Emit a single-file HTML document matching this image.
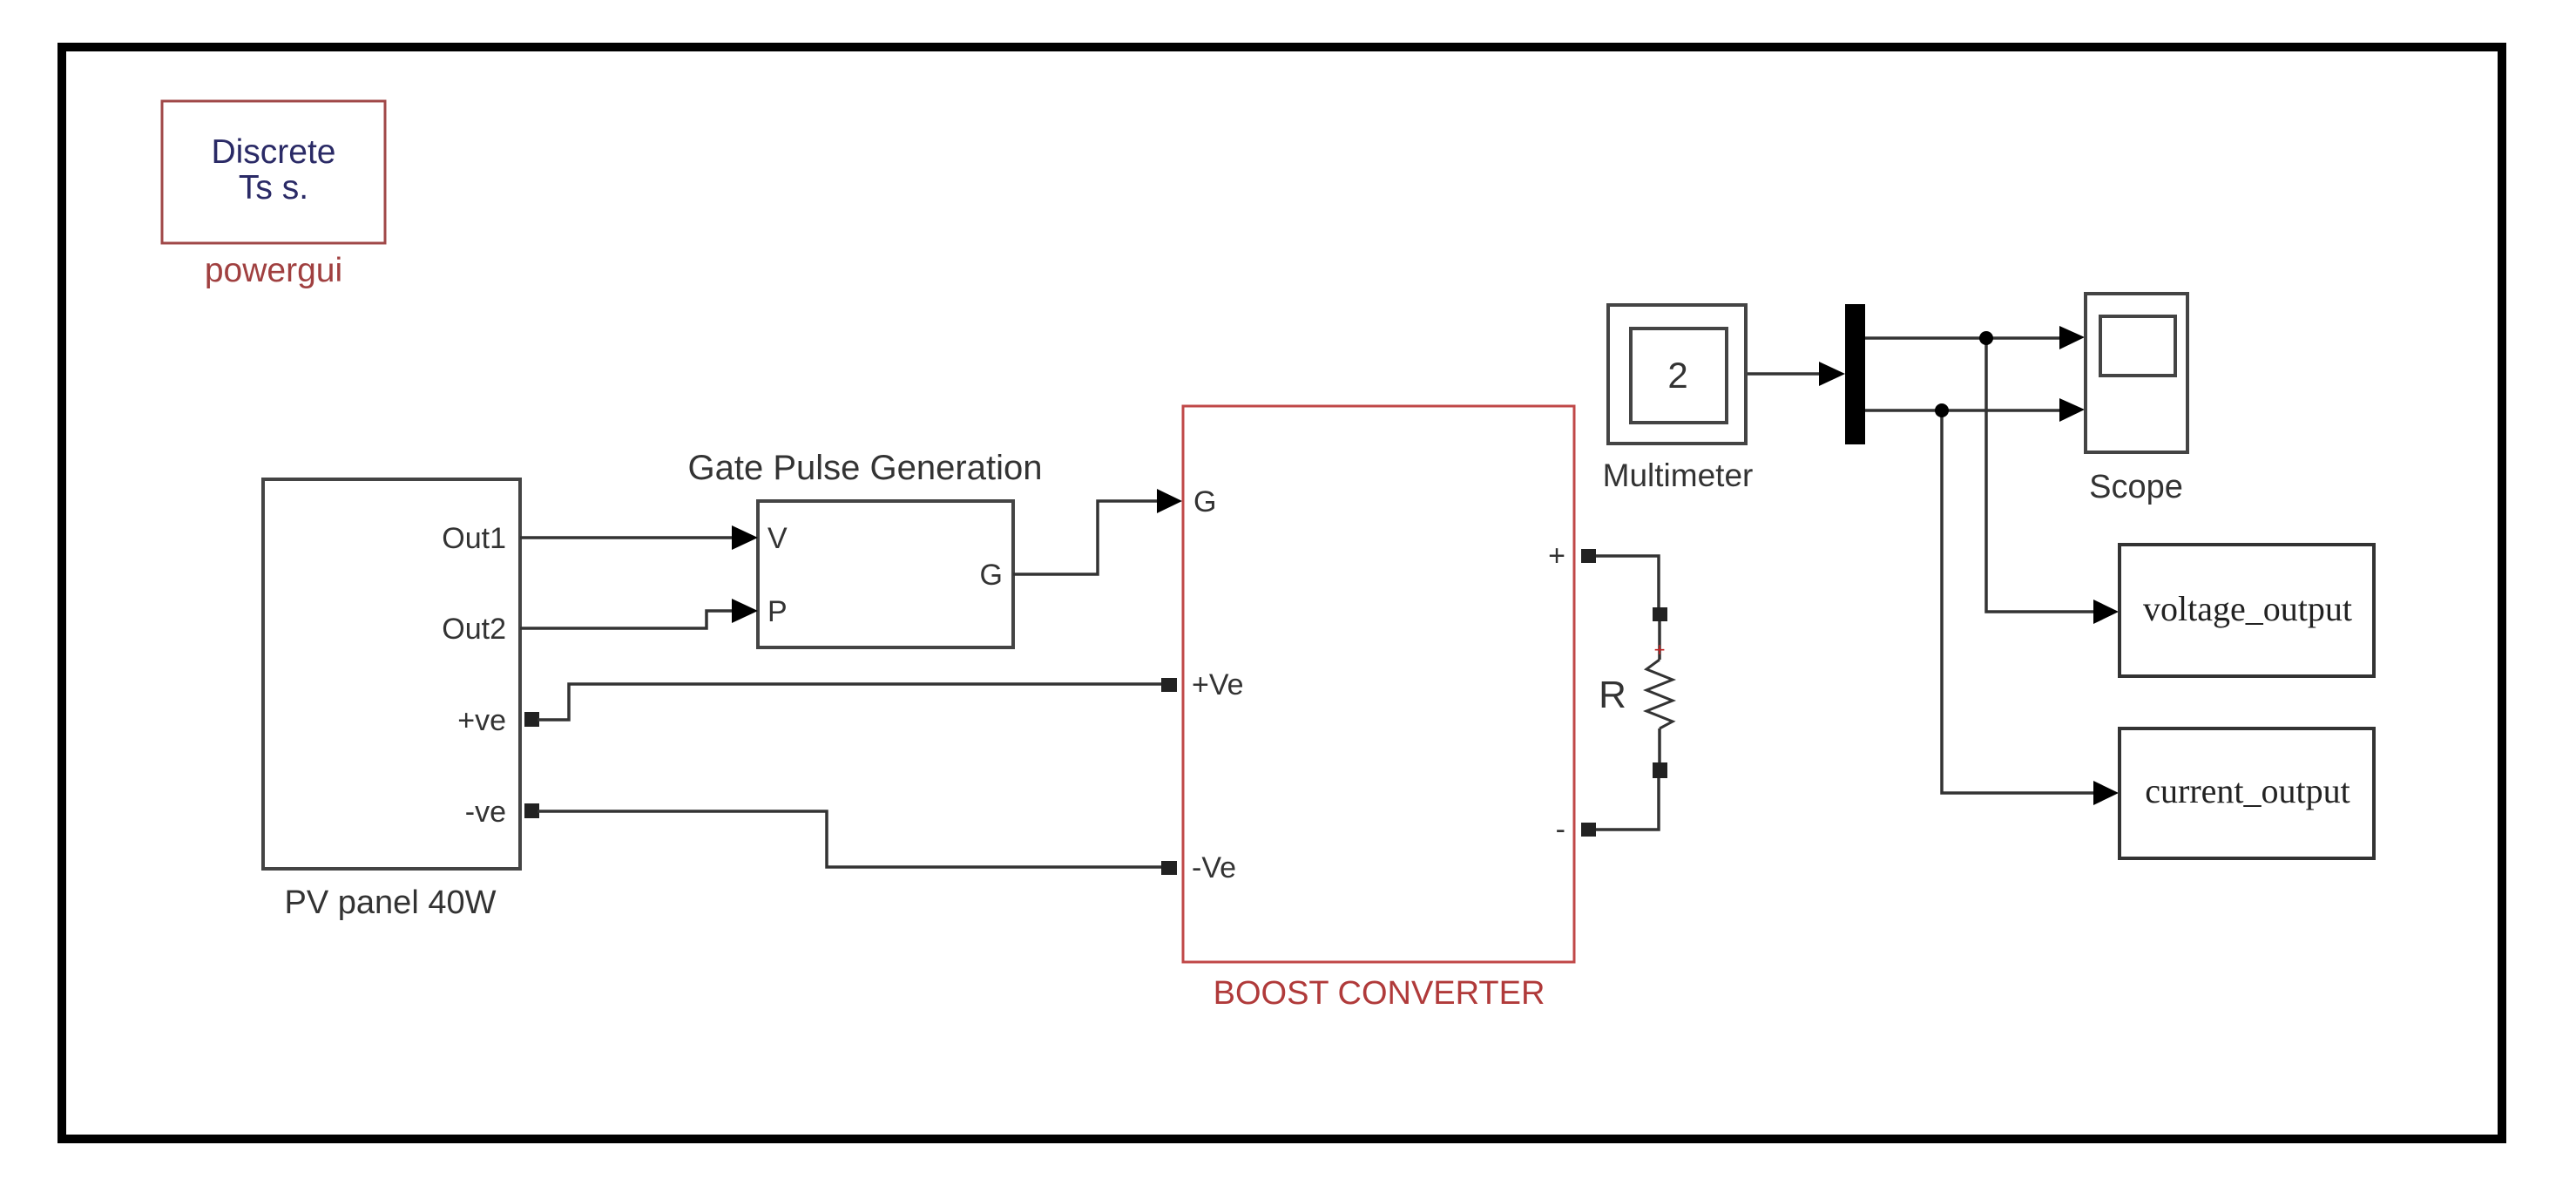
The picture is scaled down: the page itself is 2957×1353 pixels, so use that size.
<!DOCTYPE html>
<html><head><meta charset="utf-8"><style>
html,body{margin:0;padding:0;background:#fff;width:2957px;height:1353px;overflow:hidden}
svg{display:block}
text{font-family:"Liberation Sans",sans-serif}
</style></head><body>
<svg width="2957" height="1353" viewBox="0 0 2957 1353" xmlns="http://www.w3.org/2000/svg">
<rect x="0" y="0" width="2957" height="1353" fill="#fff"/>
<rect x="71" y="54" width="2801" height="1253" fill="none" stroke="#000" stroke-width="10"/>

<!-- powergui -->
<rect x="186" y="116" width="256" height="163" fill="none" stroke="#a04848" stroke-width="3"/>
<text x="314" y="187" font-size="39" fill="#2a2a66" text-anchor="middle">Discrete</text>
<text x="314" y="228" font-size="39" fill="#2a2a66" text-anchor="middle">Ts s.</text>
<text x="314" y="323" font-size="39" fill="#a04040" text-anchor="middle">powergui</text>

<!-- PV panel -->
<rect x="302" y="550" width="295" height="447" fill="none" stroke="#444" stroke-width="4"/>
<g font-size="34" fill="#333" text-anchor="end">
<text x="581" y="629">Out1</text>
<text x="581" y="733">Out2</text>
<text x="581" y="838">+ve</text>
<text x="581" y="943">-ve</text>
</g>
<text x="448" y="1048" font-size="38" fill="#333" text-anchor="middle">PV panel 40W</text>
<rect x="602" y="817" width="17" height="17" fill="#222"/>
<rect x="602" y="922" width="17" height="17" fill="#222"/>

<!-- Gate pulse -->
<text x="993" y="550" font-size="40" fill="#333" text-anchor="middle">Gate Pulse Generation</text>
<rect x="870" y="575" width="293" height="168" fill="none" stroke="#444" stroke-width="4"/>
<text x="881" y="629" font-size="34" fill="#333">V</text>
<text x="881" y="713" font-size="34" fill="#333">P</text>
<text x="1151" y="671" font-size="34" fill="#333" text-anchor="end">G</text>

<g fill="none" stroke="#333" stroke-width="3.5">
<path d="M597 617 H840"/>
<path d="M597 721 H811 V701 H840"/>
<path d="M1163 659 H1260 V575 H1330"/>
<path d="M617 826 H653 V785 H1335"/>
<path d="M617 931 H949 V995 H1335"/>
<path d="M2005 429 H2090"/>
<path d="M2141 388 H2365"/>
<path d="M2141 471 H2365"/>
<path d="M2280 388 V702 H2404"/>
<path d="M2229 471 V910 H2404"/>
<path d="M1832 638 H1904 V705"/>
<path d="M1832 952 H1904 V885"/>
<path d="M1905 713 V757"/>
<path d="M1905 836 V875"/>
</g>
<g fill="#000">
<polygon points="840,603 870,617 840,631"/>
<polygon points="840,687 870,701 840,715"/>
<polygon points="1328,561 1357,575 1328,589"/>
<polygon points="2088,415 2118,429 2088,443"/>
<polygon points="2364,374 2393,387 2364,401"/>
<polygon points="2364,457 2393,470 2364,484"/>
<polygon points="2403,688 2432,702 2403,716"/>
<polygon points="2403,896 2432,910 2403,924"/>
<circle cx="2280" cy="388" r="8"/>
<circle cx="2229" cy="471" r="8"/>
</g>

<!-- Boost converter -->
<rect x="1358" y="466" width="449" height="638" fill="none" stroke="#c04848" stroke-width="3"/>
<rect x="1333" y="778" width="18" height="16" fill="#222"/>
<rect x="1333" y="988" width="18" height="16" fill="#222"/>
<rect x="1815" y="630" width="17" height="16" fill="#222"/>
<rect x="1815" y="944" width="17" height="16" fill="#222"/>
<g font-size="34" fill="#333">
<text x="1370" y="587">G</text>
<text x="1368" y="797">+Ve</text>
<text x="1368" y="1007">-Ve</text>
<text x="1797" y="649" text-anchor="end">+</text>
<text x="1797" y="963" text-anchor="end">-</text>
</g>
<text x="1583" y="1152" font-size="38" fill="#b03a3a" text-anchor="middle">BOOST CONVERTER</text>

<!-- Resistor -->
<rect x="1897" y="697" width="17" height="16" fill="#222"/>
<rect x="1897" y="875" width="17" height="18" fill="#222"/>
<polyline points="1905,757 1890,768 1920,780 1890,792 1920,804 1890,816 1920,828 1905,836" fill="none" stroke="#333" stroke-width="3"/>
<text x="1905" y="753" font-size="22" fill="#c02020" text-anchor="middle">+</text>
<text x="1851" y="812" font-size="44" fill="#333" text-anchor="middle">R</text>

<!-- Multimeter -->
<rect x="1846" y="350" width="158" height="159" fill="none" stroke="#444" stroke-width="4"/>
<rect x="1872" y="377" width="110" height="108" fill="none" stroke="#444" stroke-width="4"/>
<text x="1926" y="445" font-size="42" fill="#333" text-anchor="middle">2</text>
<text x="1926" y="558" font-size="37" fill="#333" text-anchor="middle">Multimeter</text>
<rect x="2118" y="349" width="23" height="161" fill="#000"/>

<!-- Scope -->
<rect x="2394" y="337" width="117" height="182" fill="none" stroke="#444" stroke-width="4"/>
<rect x="2411" y="363" width="86" height="68" fill="none" stroke="#444" stroke-width="4"/>
<text x="2452" y="571" font-size="38" fill="#333" text-anchor="middle">Scope</text>

<!-- To workspace -->
<rect x="2433" y="625" width="292" height="151" fill="none" stroke="#333" stroke-width="4"/>
<rect x="2433" y="836" width="292" height="149" fill="none" stroke="#333" stroke-width="4"/>
<text x="2580" y="712" font-size="40" fill="#222" text-anchor="middle" style="font-family:'Liberation Serif',serif">voltage_output</text>
<text x="2580" y="921" font-size="40" fill="#222" text-anchor="middle" style="font-family:'Liberation Serif',serif">current_output</text>
</svg>
</body></html>
